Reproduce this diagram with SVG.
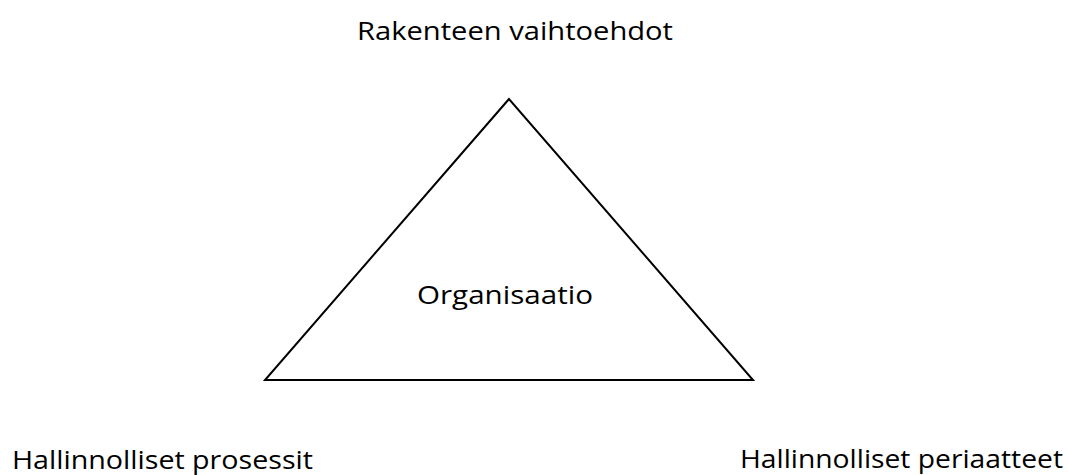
<svg xmlns="http://www.w3.org/2000/svg" width="1069" height="475" viewBox="0 0 1069 475">
  <style>
    .lbl { font-family: "Open Sans", "Liberation Sans", sans-serif; font-size: 26px; fill: #000; }
  </style>
  <rect width="1069" height="475" fill="#fff"/>
  <g id="triangle">
    <polygon points="509,99 265,380 753,380" fill="none" stroke="#000" stroke-width="2" stroke-linejoin="miter"/>
    <text class="lbl" x="417" y="304" textLength="176" lengthAdjust="spacingAndGlyphs">Organisaatio</text>
  </g>
  <g id="top-label">
    <text class="lbl" x="357" y="40" textLength="316" lengthAdjust="spacingAndGlyphs">Rakenteen vaihtoehdot</text>
  </g>
  <g id="left-label">
    <text class="lbl" x="12" y="469" textLength="301" lengthAdjust="spacingAndGlyphs">Hallinnolliset prosessit</text>
  </g>
  <g id="right-label">
    <text class="lbl" x="740" y="468" textLength="323" lengthAdjust="spacingAndGlyphs">Hallinnolliset periaatteet</text>
  </g>
  <g id="connectors"></g>
</svg>
